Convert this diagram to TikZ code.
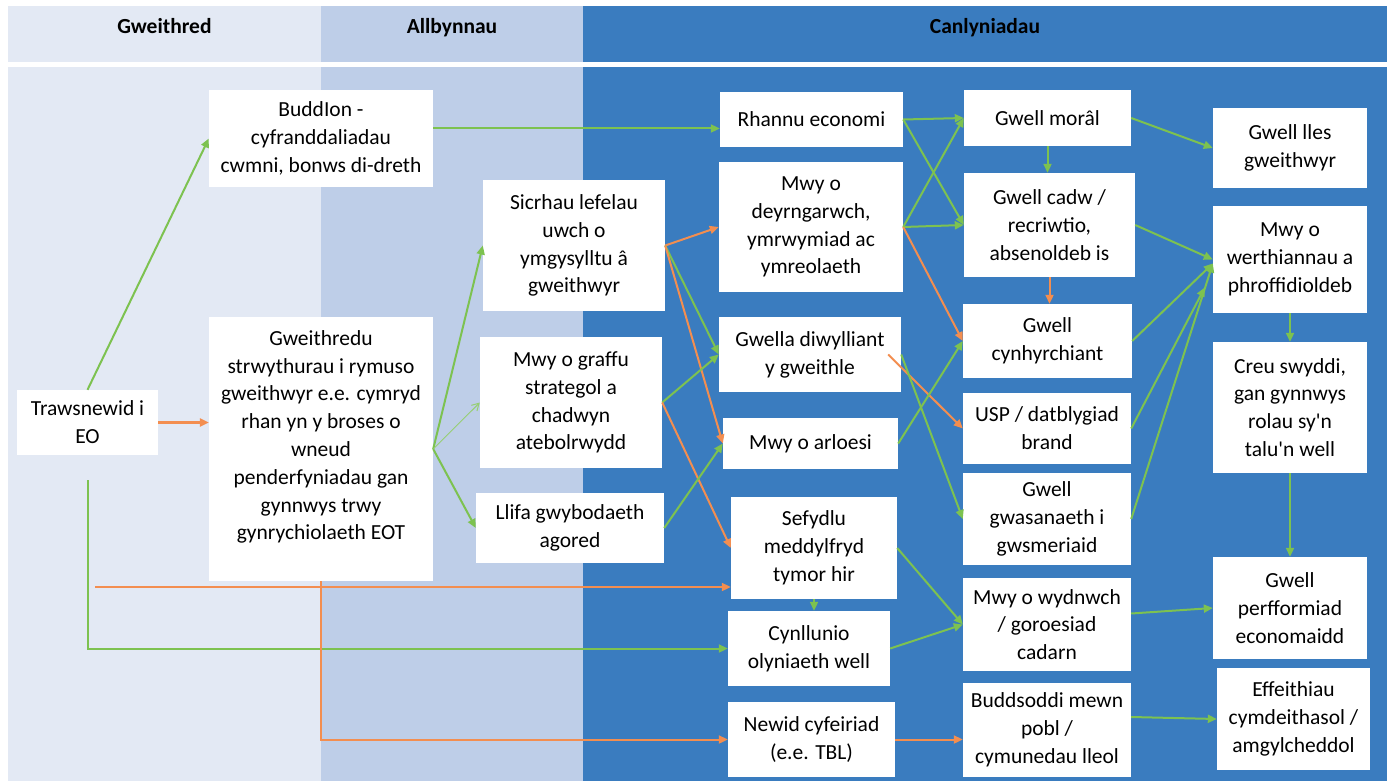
\documentclass[tikz,border=0pt]{standalone}
\usepackage{fontspec}
\setmainfont{Carlito}[Ligatures=TeXOff]
\usetikzlibrary{arrows.meta, positioning, calc}
\definecolor{paleblue}{RGB}{227,233,244}
\definecolor{lightblue}{RGB}{190,206,232}
\definecolor{midblue}{RGB}{58,124,191}
\definecolor{arrowgreen}{RGB}{125,194,80}
\definecolor{arroworange}{RGB}{243,142,80}

\begin{document}
\begin{tikzpicture}[x=1pt, y=-1pt]
	% Define custom styles to make the code cleaner and more reusable.
	\tikzset{
		box/.style={fill=white, align=center, inner sep=2pt, font=\fontsize{21.5}{27.8}\selectfont},
		head/.style={anchor=base, font=\fontsize{21.5}{26}\selectfont\bfseries},
		gline/.style={-{Triangle[length=9pt, width=8pt]}, draw=arrowgreen, line width=2pt},
		oline/.style={-{Triangle[length=9pt, width=8pt]}, draw=arroworange, line width=2pt},
		thinline/.style={-{Straight Barb[length=7pt, width=8pt]}, draw=arrowgreen!80!white, line width=1pt}
	}
	\useasboundingbox (0,0) rectangle (1391,781);
	\fill[white] (0,0) rectangle (1391,781);
	
	% === COLUMNS ===
	\fill[paleblue] (8,6) rectangle (321,62);
	\fill[lightblue] (321,6) rectangle (583,62);
	\fill[midblue] (583,6) rectangle (1387,62);
	\fill[paleblue] (8,67) rectangle (321,781);
	\fill[lightblue] (321,67) rectangle (583,781);
	\fill[midblue] (583,67) rectangle (1387,781);
	
	\node[head] (hgweith) at (164.5,34) {Gweithred};
	\node[head] (hallb) at (452,34) {Allbynnau};
	\node[head] (hcanl) at (985,34) {Canlyniadau};
	
	% === NODES ===
	% Place the nodes for the diagram.
	
	\node[box, minimum width=141, minimum height=65] (trans) at (87.5,422.5) {Trawsnewid i\\EO};
	\node[box, minimum width=224, minimum height=97] (budd) at (321,138.5) {BuddIon -\\cyfranddaliadau\\cwmni, bonws di-dreth};
	\node[box, minimum width=224, minimum height=264] (gweith) at (321,449) {Gweithredu\\strwythurau i rymuso\\gweithwyr e.e. cymryd\\rhan yn y broses o\\wneud\\penderfyniadau gan\\gynnwys trwy\\gynrychiolaeth EOT\\\mbox{}};
	
	\node[box, minimum width=182, minimum height=131] (sicr) at (574,245.5) {Sicrhau lefelau\\uwch o\\ymgysylltu â\\gweithwyr};
	\node[box, minimum width=182, minimum height=131] (graffu) at (571,402.5) {Mwy o graffu\\strategol a\\chadwyn\\atebolrwydd};
	\node[box, minimum width=188, minimum height=70] (llifa) at (570,528) {Llifa gwybodaeth\\agored};
	
	\node[box, minimum width=183, minimum height=55] (rhannu) at (811.5,119.5) {Rhannu economi};
	\node[box, minimum width=184, minimum height=130] (deyrn) at (811,227) {Mwy o\\deyrngarwch,\\ymrwymiad ac\\ymreolaeth};
	\node[box, minimum width=182, minimum height=75] (gwella) at (810,354.5) {Gwella diwylliant\\y gweithle};
	\node[box, minimum width=175, minimum height=51] (arloesi) at (810.5,443.5) {Mwy o arloesi};
	\node[box, minimum width=166, minimum height=102] (sefydlu) at (814,548) {Sefydlu\\meddylfryd\\tymor hir};
	\node[box, minimum width=162, minimum height=75] (cynll) at (809,648.5) {Cynllunio\\olyniaeth well};
	\node[box, minimum width=167, minimum height=75] (newid) at (811.5,739.5) {Newid cyfeiriad\\(e.e. TBL)};
	
	\node[box, minimum width=167, minimum height=56] (moral) at (1047.5,118) {Gwell morâl};
	\node[box, minimum width=171, minimum height=104] (cadw) at (1049.5,225) {Gwell cadw /\\recriwtio,\\absenoldeb is};
	\node[box, minimum width=169, minimum height=74] (cynhy) at (1047.5,341) {Gwell\\cynhyrchiant};
	\node[box, minimum width=168, minimum height=71] (usp) at (1047,428.5) {USP / datblygiad\\brand};
	\node[box, minimum width=168, minimum height=92] (gwasan) at (1047,519) {Gwell\\gwasanaeth i\\gwsmeriaid};
	\node[box, minimum width=168, minimum height=93] (wydn) at (1047,624.5) {Mwy o wydnwch\\/ goroesiad\\cadarn};
	\node[box, minimum width=168, minimum height=94] (budds) at (1047,730) {Buddsoddi mewn\\pobl /\\cymunedau lleol};
	
	\node[box, minimum width=154, minimum height=80] (lles) at (1290,148) {Gwell lles\\gweithwyr};
	\node[box, minimum width=154, minimum height=107] (werth) at (1290,259.5) {Mwy o\\werthiannau a\\phroffidioldeb};
	\node[box, minimum width=154, minimum height=131] (creu) at (1290,407.5) {Creu swyddi,\\gan gynnwys\\rolau sy'n\\talu'n well};
	\node[box, minimum width=154, minimum height=102] (perf) at (1290,608) {Gwell\\perfformiad\\economaidd};
	\node[box, minimum width=153, minimum height=102] (effe) at (1293.5,719) {Effeithiau\\cymdeithasol /\\amgylcheddol};
	
	\coordinate (ostart) at (95,587);
	
	% === CONNECTIONS ===
	% Draw the lines and arrows connecting the nodes.
	
	\draw[gline] (trans.north) -- (budd.west);
	\draw[oline, line width=3pt] (trans.east) -- (trans.east -| gweith.west);
	\draw[gline] ([yshift=-25pt]trans.south) |- (cynll.west);
	\draw[oline] (ostart) -- (ostart -| sefydlu.west);
	\draw[oline] (gweith.south) |- (newid.west);
	\draw[gline] ([yshift=10pt]budd.east) -- ([yshift=10pt]budd.east -| rhannu.west);
	
	\draw[gline] (gweith.east) -- (sicr.west);
	\draw[thinline] (gweith.east) -- (graffu.west);
	\draw[gline] (gweith.east) -- (llifa.west);
	
	\draw[oline] (sicr.east) -- (deyrn.west);
	\draw[gline] (sicr.east) -- (gwella.west);
	\draw[oline] (sicr.east) -- (arloesi.west);
	\draw[gline] (graffu.east) -- (gwella.west);
	\draw[oline] (graffu.east) -- (sefydlu.west);
	\draw[gline] (llifa.east) -- (arloesi.west);
	
	\draw[gline] (rhannu.east) -- (moral.west);
	\draw[gline] (rhannu.east) -- (cadw.west);
	\draw[gline] (deyrn.east) -- (moral.west);
	\draw[gline] (deyrn.east) -- (cadw.west);
	\draw[oline] (deyrn.east) -- (cynhy.west);
	\draw[oline] ([xshift=-13pt]gwella.east) -- (usp.west);
	\draw[gline] (gwella.east) -- (gwasan.west);
	\draw[gline] (arloesi.east) -- (cynhy.west);
	\draw[gline] (sefydlu.south) -- (sefydlu.south |- cynll.north);
	\draw[gline] (sefydlu.east) -- (wydn.west);
	\draw[gline] (cynll.east) -- (wydn.west);
	\draw[oline] (newid.east) -- (newid.east -| budds.west);
	
	% Right-hand outcomes
	\draw[gline] (moral.south) -- (moral.south |- cadw.north);
	\draw[oline] (cadw.south) -- (cadw.south |- cynhy.north);
	\draw[gline] (moral.east) -- (lles.west);
	\draw[gline] (cadw.east) -- (werth.west);
	\draw[gline] (cynhy.east) -- ([yshift=-4pt]werth.west);
	\draw[gline] (gwasan.east) -- ([yshift=-4pt]werth.west);
	\draw[gline] (usp.east) -- ([xshift=-8pt, yshift=-28pt]werth.west);
	\draw[gline] ([yshift=11pt]wydn.east) -- (perf.west);
	\draw[gline] ([yshift=13pt]budds.east) -- (effe.west);
	\draw[gline] (werth.south) -- (creu.north);
	\draw[gline] (creu.south) -- (perf.north);
\end{tikzpicture}
\end{document}
